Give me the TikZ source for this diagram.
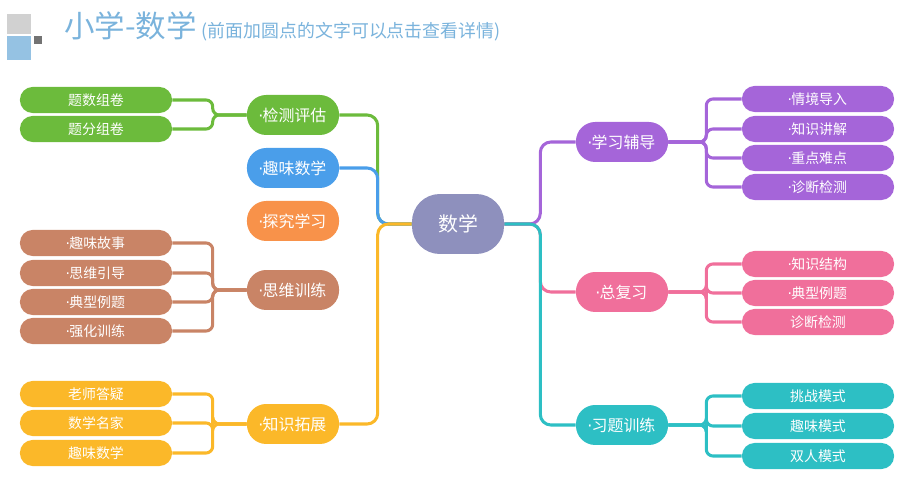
\documentclass[tikz,border=0pt]{standalone}
\usepackage{fontspec}
\setmainfont{Noto Sans CJK SC}
\newfontfamily\dotfont{DejaVu Sans}
\usetikzlibrary{positioning,calc}
\definecolor{cmain}{HTML}{8E90BD}
\definecolor{cgreen}{HTML}{6CBB3C}
\definecolor{cblue}{HTML}{4A9EEA}
\definecolor{corange}{HTML}{F8924A}
\definecolor{cbrown}{HTML}{C98466}
\definecolor{cyellow}{HTML}{FBB829}
\definecolor{cpurple}{HTML}{A565D9}
\definecolor{cpink}{HTML}{F06F9B}
\definecolor{cteal}{HTML}{2DBFC4}
\definecolor{ctitle}{HTML}{7AB3DC}
\newcommand{\pt}{{\dotfont\kern-1pt·\kern-0.5pt}}
\begin{document}
\begin{tikzpicture}[x=0.0265cm,y=-0.0265cm,
  branch/.style={fill=#1,rounded corners=14.5pt,minimum width=2.44cm,minimum height=1.06cm,text=white,font=\fontsize{12}{14}\selectfont},
  leaf/.style={fill=#1,rounded corners=9.5pt,minimum width=4.03cm,minimum height=0.69cm,text=white,font=\fontsize{10.5}{12}\selectfont,inner sep=0pt},
  link/.style={draw=#1,line width=2.3pt,rounded corners=8pt}]
\useasboundingbox (0,0) rectangle (904,479);
% logo and title
\fill[black!18] (7,14) rectangle (31,34);
\fill[ctitle!80] (7,36) rectangle (31,60);
\fill[black!55] (34,36) rectangle (42,44);
\node[anchor=west,text=ctitle,inner sep=0pt] (title) at (64,26)
  {\fontsize{23}{25}\selectfont 小学-数学\,\fontsize{13.5}{15}\selectfont(前面加圆点的文字可以点击查看详情)};
% centre
\node[fill=cmain,rounded corners=21pt,minimum width=2.44cm,minimum height=1.59cm,text=white,font=\fontsize{15}{17}\selectfont] (c) at (458,224) {数学};
% left branches
\node[branch=cgreen] (jc) at (293,115) {\pt 检测评估};
\node[branch=cblue] (qw) at (293,168) {\pt 趣味数学};
\node[branch=corange] (tj) at (293,221) {\pt 探究学习};
\node[branch=cbrown] (sw) at (293,290) {\pt 思维训练};
\node[branch=cyellow] (zs) at (293,424) {\pt 知识拓展};
% right branches
\node[branch=cpurple] (xx) at (622,142) {\pt 学习辅导};
\node[branch=cpink] (zf) at (622,292) {\pt 总复习};
\node[branch=cteal] (xt) at (622,425) {\pt 习题训练};
% leaves
\node[leaf=cgreen] (jc1) at (96,100) {题数组卷};
\node[leaf=cgreen] (jc2) at (96,129) {题分组卷};
\node[leaf=cbrown] (sw1) at (96,243) {\pt 趣味故事};
\node[leaf=cbrown] (sw2) at (96,273) {\pt 思维引导};
\node[leaf=cbrown] (sw3) at (96,302) {\pt 典型例题};
\node[leaf=cbrown] (sw4) at (96,331) {\pt 强化训练};
\node[leaf=cyellow] (zs1) at (96,394) {老师答疑};
\node[leaf=cyellow] (zs2) at (96,423) {数学名家};
\node[leaf=cyellow] (zs3) at (96,453) {趣味数学};
\node[leaf=cpurple] (xx1) at (818,99) {\pt 情境导入};
\node[leaf=cpurple] (xx2) at (818,129) {\pt 知识讲解};
\node[leaf=cpurple] (xx3) at (818,158) {\pt 重点难点};
\node[leaf=cpurple] (xx4) at (818,187) {\pt 诊断检测};
\node[leaf=cpink] (zf1) at (818,264) {\pt 知识结构};
\node[leaf=cpink] (zf2) at (818,293) {\pt 典型例题};
\node[leaf=cpink] (zf3) at (818,322) {诊断检测};
\node[leaf=cteal] (xt1) at (818,396) {挑战模式};
\node[leaf=cteal] (xt2) at (818,426) {趣味模式};
\node[leaf=cteal] (xt3) at (818,456) {双人模式};
% centre links
\coordinate (cl) at ($(c.west)+(-34,0)$);
\coordinate (cr) at ($(c.east)+(36,0)$);
\foreach \b/\col in {jc/cgreen,qw/cblue,zs/cyellow}
  \draw[link=\col] (\b.east) -| (cl) -- (c.west);
\foreach \b/\col in {xx/cpurple,zf/cpink,xt/cteal}
  \draw[link=\col] (c.east) -- (cr) |- (\b.west);
% leaf links
\foreach \b/\col/\list in {jc/cgreen/{jc1,jc2},sw/cbrown/{sw1,sw2,sw3,sw4},zs/cyellow/{zs1,zs2,zs3}}
  \foreach \l in \list
    \draw[link=\col,rounded corners=5pt] (\b.west) -- ++(-34,0) |- (\l.east);
\foreach \b/\col/\list in {xx/cpurple/{xx1,xx2,xx3,xx4},zf/cpink/{zf1,zf2,zf3},xt/cteal/{xt1,xt2,xt3}}
  \foreach \l in \list
    \draw[link=\col,rounded corners=5pt] (\b.east) -- ++(38,0) |- (\l.west);
\end{tikzpicture}
\end{document}
